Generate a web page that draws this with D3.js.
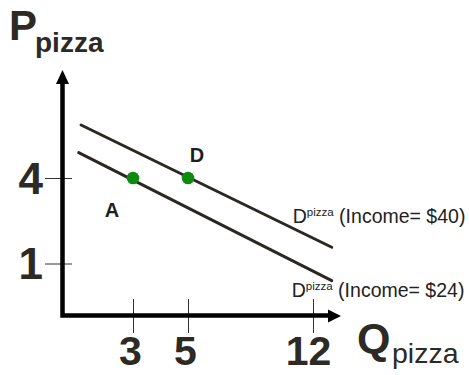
<!DOCTYPE html>
<html>
<head>
<meta charset="utf-8">
<script src="https://cdn.jsdelivr.net/npm/d3@7"></script>
<style>
  html, body { margin: 0; padding: 0; background: #fff; }
  svg { display: block; font-family: "Liberation Sans", Arial, sans-serif; }
</style>
</head>
<body>
<svg id="chart" width="469" height="375"></svg>
<script>
// Axis ticks
const quantityTicks = [3, 5, 12];
const priceTicks = [1, 4];

// Demand curves (endpoints in quantity / price units)
const incomes = [40, 24];
const highDemandQ = [0.79, 13.05];
const highDemandP = [5.86, 1.57];
const lowDemandQ = [0.69, 13.05];
const lowDemandP = [4.89, 0.67];

// Marked points on the curves
const pointNames = ["A", "D"];
const pointQ = [3, 5];
const pointP = [4, 4];

const ink = "#2b2822";
const numeralInk = "#2d2a24";
const dotGreen = "#0d8a10";

const svg = d3.select("#chart");

// Schematic (non-uniform) scales for quantity and price
const x = d3.scaleLinear().domain([0, 3, 5, 12]).range([62.5, 133, 188, 313]);
const y = d3.scaleLinear().domain([0, 1, 4]).range([315.5, 263.5, 178]);

// Tick marks and numerals on the price axis
const yAxis = svg.append("g")
  .attr("transform", "translate(72,0)")
  .call(d3.axisLeft(y).tickValues(priceTicks).tickSize(27).tickPadding(2).tickFormat(d3.format("d")));
yAxis.select(".domain").remove();
yAxis.selectAll(".tick line").attr("stroke", "#333").attr("stroke-width", 1);
yAxis.selectAll(".tick text")
  .attr("dy", "0.35em")
  .attr("fill", numeralInk)
  .style("font-family", "'Liberation Sans', Arial, sans-serif")
  .style("font-size", "44px")
  .style("font-weight", "bold");

// Tick marks and numerals on the quantity axis
const xAxis = svg.append("g")
  .attr("transform", "translate(0,299)")
  .call(d3.axisBottom(x).tickValues(quantityTicks).tickSize(34).tickPadding(3).tickFormat(d3.format("d")));
xAxis.select(".domain").remove();
xAxis.selectAll(".tick line").attr("stroke", "#333").attr("stroke-width", 1);
xAxis.selectAll(".tick text")
  .attr("dx", d => (d >= 10 ? -5 : -3))
  .attr("fill", numeralInk)
  .style("font-family", "'Liberation Sans', Arial, sans-serif")
  .style("font-size", "41px")
  .style("font-weight", "bold");

// Heavy axis lines with arrowheads
const x0 = x(0), y0 = y(0);
svg.append("path")
  .attr("d", `M${x0},82 V${y0} H330`)
  .attr("fill", "none")
  .attr("stroke", "#000")
  .attr("stroke-width", 4.5)
  .attr("stroke-linejoin", "miter")
  .attr("stroke-linecap", "square");
svg.append("path")
  .attr("d", `M${x0},70 L${x0 + 6.5},84 L${x0 - 6.5},84 Z`)
  .attr("fill", "#000");
svg.append("path")
  .attr("d", `M341,${y0 + 0.5} L328,${y0 - 6} L328,${y0 + 7} Z`)
  .attr("fill", "#000");

// Axis titles
const pTitle = svg.append("text").attr("x", 9).attr("y", 40).attr("fill", numeralInk);
pTitle.append("tspan").style("font-size", "42px").style("font-weight", "bold").text("P");
pTitle.append("tspan").attr("x", 35).attr("y", 52).style("font-size", "28px").style("font-weight", "bold").text("pizza");

const qTitle = svg.append("text").attr("x", 357).attr("y", 353).attr("fill", numeralInk);
qTitle.append("tspan").style("font-size", "43px").style("font-weight", "bold").text("Q");
qTitle.append("tspan").attr("x", 392).attr("y", 363).style("font-size", "28.5px").text("pizza");

// Demand curves
const curves = [
  { q: highDemandQ, p: highDemandP, income: incomes[0], dx: -39, dy: -24 },
  { q: lowDemandQ, p: lowDemandP, income: incomes[1], dx: -40, dy: 16 }
];
const line = d3.line().x(d => x(d[0])).y(d => y(d[1]));

curves.forEach(c => {
  const pts = c.q.map((q, i) => [q, c.p[i]]);
  svg.append("path")
    .attr("d", line(pts))
    .attr("fill", "none")
    .attr("stroke", ink)
    .attr("stroke-width", 3)
    .attr("stroke-linecap", "round");

  const end = pts[pts.length - 1];
  const label = svg.append("text")
    .attr("x", x(end[0]) + c.dx)
    .attr("y", y(end[1]) + c.dy)
    .attr("fill", "#222")
    .style("font-size", "19.5px");
  label.append("tspan").text("D");
  label.append("tspan").attr("dy", -7).style("font-size", "11.5px").text("pizza");
  label.append("tspan").attr("dy", 7).text(` (Income= $${c.income})`);
});

// Points A and D
const points = pointNames.map((name, i) => ({ name, q: pointQ[i], p: pointP[i] }));
svg.selectAll("circle.pt")
  .data(points)
  .join("circle")
  .attr("class", "pt")
  .attr("cx", d => x(d.q))
  .attr("cy", d => y(d.p))
  .attr("r", 6.3)
  .attr("fill", dotGreen);

const labelOffset = { A: [-21, 39], D: [9, -16] };
svg.selectAll("text.ptlabel")
  .data(points)
  .join("text")
  .attr("class", "ptlabel")
  .attr("x", d => x(d.q) + labelOffset[d.name][0])
  .attr("y", d => y(d.p) + labelOffset[d.name][1])
  .attr("text-anchor", "middle")
  .attr("fill", "#1e1e1e")
  .style("font-size", "20px")
  .style("font-weight", "bold")
  .text(d => d.name);
</script>
</body>
</html>
